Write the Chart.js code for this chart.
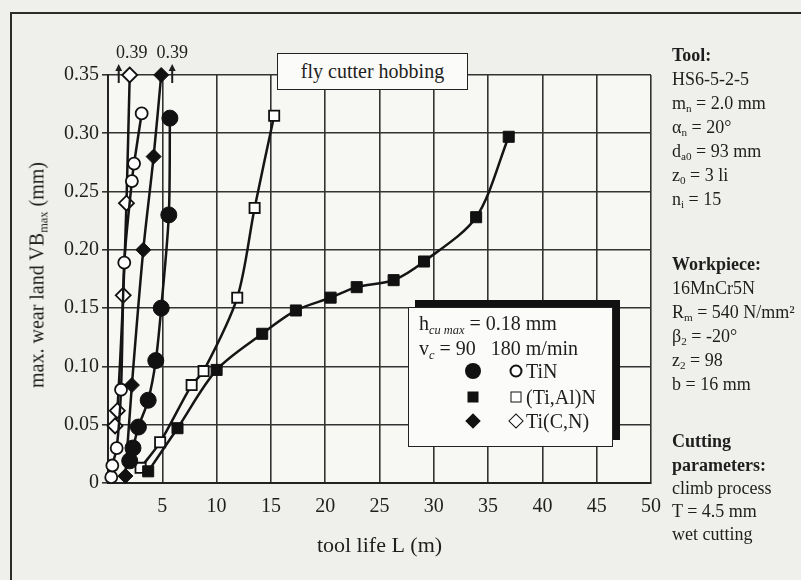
<!DOCTYPE html>
<html>
<head>
<meta charset="utf-8">
<script src="https://cdn.jsdelivr.net/npm/chart.js@4.4.1/dist/chart.umd.min.js"></script>
<style>
  html, body { margin: 0; padding: 0; background: #efefeb; }
  #wrap { position: relative; width: 801px; height: 580px; overflow: hidden;
          font-family: "Liberation Serif", "Times New Roman", serif; color: #1e1e1e; }
  #frame { position: absolute; left: 10px; top: 12px; width: 900px; height: 700px;
           border-left: 2px solid #2b2b2b; border-top: 2px solid #2b2b2b; }
  canvas { position: absolute; left: 0; top: 0; }
  sub { font-size: 0.62em; vertical-align: -0.3em; line-height: 0; }
  .ytitle { position: absolute; left: 37px; top: 275px; white-space: nowrap; font-size: 20px;
            transform: translate(-50%, -50%) rotate(-90deg); }
  #titlebox { position: absolute; left: 277px; top: 53px; width: 191px; height: 37px; box-sizing: border-box;
              border: 1.5px solid #222; background: #fbfbf9; text-align: center; font-size: 20px; line-height: 34px; }
  #legend { position: absolute; left: 408px; top: 307px; width: 205px; height: 140px; box-sizing: border-box;
            border: 1.5px solid #222; background: #fbfbf9; box-shadow: 7px -7px 0 #111; font-size: 20px; }
  #legend .t { position: absolute; white-space: nowrap; line-height: 24px; }
  .m { position: absolute; box-sizing: border-box; transform: translate(-50%, -50%); }
  .fc { width: 16px; height: 16px; border-radius: 50%; background: #111; }
  .oc { width: 13px; height: 13px; border-radius: 50%; border: 2px solid #111; background: #fff; }
  .fs { width: 11px; height: 11px; background: #111; }
  .os { width: 11px; height: 11px; border: 1.5px solid #111; background: #fff; }
  .fd { width: 11px; height: 11px; background: #111; transform: translate(-50%, -50%) rotate(45deg); }
  .od { width: 11px; height: 11px; border: 1.5px solid #111; background: #fff; transform: translate(-50%, -50%) rotate(45deg); }
  #side { position: absolute; left: 672px; top: 0; font-size: 18px; }
  #side div { position: absolute; left: 0; white-space: nowrap; line-height: 24px; }
</style>
</head>
<body>
<div id="wrap">
  <div id="frame"></div>
  <canvas id="wearChart" width="801" height="580"></canvas>
  <div class="ytitle">max. wear land VB<sub>max</sub> (mm)</div>
  <div id="titlebox">fly cutter hobbing</div>
  <div id="legend">
    <div class="t" style="left:10px; top:3px;">h<sub><i>cu max</i></sub> = 0.18 mm</div>
    <div class="t" style="left:10px; top:28px;">v<sub><i>c</i></sub> = 90&nbsp;&nbsp;&nbsp;180 m/min</div>
    <div class="m fc" style="left:64px; top:63px;"></div>
    <div class="m oc" style="left:107px; top:63px;"></div>
    <div class="t" style="left:117px; top:51px;">TiN</div>
    <div class="m fs" style="left:64px; top:89px;"></div>
    <div class="m os" style="left:107px; top:89px;"></div>
    <div class="t" style="left:117px; top:77px;">(Ti,Al)N</div>
    <div class="m fd" style="left:64px; top:113px;"></div>
    <div class="m od" style="left:107px; top:113px;"></div>
    <div class="t" style="left:117px; top:101px;">Ti(C,N)</div>
  </div>
  <div id="side">
    <div style="top:43px;"><b>Tool:</b></div>
    <div style="top:67px;">HS6-5-2-5</div>
    <div style="top:91px;">m<sub>n</sub> = 2.0 mm</div>
    <div style="top:115px;">α<sub>n</sub> = 20°</div>
    <div style="top:139px;">d<sub>a0</sub> = 93 mm</div>
    <div style="top:163px;">z<sub>0</sub> = 3 li</div>
    <div style="top:187px;">n<sub>i</sub> = 15</div>
    <div style="top:252px;"><b>Workpiece:</b></div>
    <div style="top:276px;">16MnCr5N</div>
    <div style="top:300px;">R<sub>m</sub> = 540 N/mm²</div>
    <div style="top:324px;">β<sub>2</sub> = -20°</div>
    <div style="top:348px;">z<sub>2</sub> = 98</div>
    <div style="top:372px;">b = 16 mm</div>
    <div style="top:429px;"><b>Cutting</b></div>
    <div style="top:453px;"><b>parameters:</b></div>
    <div style="top:476px;">climb process</div>
    <div style="top:499px;">T = 4.5 mm</div>
    <div style="top:522px;">wet cutting</div>
  </div>
</div>
<script>
// tool life L (m) / wear land VBmax (mm), v_c = 90 m/min (filled) and 180 m/min (open)
const tin90L = [2.0, 2.3, 2.8, 3.7, 4.4, 4.9, 5.6, 5.7];
const tin90VB = [0.019, 0.030, 0.048, 0.071, 0.105, 0.150, 0.230, 0.313];
const tin180L = [0.3, 0.4, 0.8, 1.2, 1.5, 2.2, 2.4, 3.1];
const tin180VB = [0.005, 0.015, 0.030, 0.080, 0.189, 0.259, 0.274, 0.317];

const tialn90L = [3.7, 6.4, 10.0, 14.2, 17.3, 20.5, 22.9, 26.3, 29.1, 33.9, 36.9];
const tialn90VB = [0.010, 0.047, 0.097, 0.128, 0.148, 0.159, 0.168, 0.174, 0.190, 0.228, 0.297];
const tialn180L = [3.0, 4.8, 7.7, 8.8, 11.9, 13.5, 15.3];
const tialn180VB = [0.013, 0.035, 0.084, 0.096, 0.159, 0.236, 0.315];

const ticn90L = [1.6, 2.2, 3.25, 4.2, 4.9];
const ticn90VB = [0.006, 0.084, 0.200, 0.280, 0.35];
const ticn180L = [0.65, 0.86, 1.4, 1.7, 2.0];
const ticn180VB = [0.049, 0.062, 0.161, 0.240, 0.35];

// points that ran off the top of the scale
const offScaleL = [2.0, 4.9];
const offScaleVB = [0.35, 0.35];
const offScaleText = ['0.39', '0.39'];

const pts = (xs, ys) => xs.map((x, i) => ({ x: x, y: ys[i] }));

function series(label, xs, ys, style, filled, radius) {
  return {
    label: label,
    data: pts(xs, ys),
    showLine: true,
    clip: false,
    tension: 0.3,
    borderColor: '#151515',
    borderWidth: 2.5,
    pointStyle: style,
    pointRadius: radius,
    pointHoverRadius: radius,
    pointBackgroundColor: filled ? '#111' : '#fff',
    pointBorderColor: '#111',
    pointBorderWidth: filled ? 1 : 1.8
  };
}

const areaBg = {
  id: 'areaBg',
  beforeDraw(chart) {
    const { ctx, chartArea: a } = chart;
    ctx.save();
    ctx.fillStyle = '#f7f7f4';
    ctx.fillRect(a.left, a.top, a.right - a.left, a.bottom - a.top);
    ctx.restore();
  }
};

const topMarks = {
  id: 'topMarks',
  afterDatasetsDraw(chart) {
    const { ctx, scales: { x, y } } = chart;
    ctx.save();
    ctx.fillStyle = '#1e1e1e';
    ctx.strokeStyle = '#1e1e1e';
    ctx.lineWidth = 2;
    ctx.font = '18px "Liberation Serif", serif';
    ctx.textAlign = 'center';
    ctx.textBaseline = 'middle';
    offScaleL.forEach((l, i) => {
      const px = x.getPixelForValue(l);
      const py = y.getPixelForValue(offScaleVB[i]);
      const side = i === 0 ? -1 : 1;
      const ax = px + side * 11;
      ctx.beginPath();
      ctx.moveTo(ax, py + 8);
      ctx.lineTo(ax, py - 5);
      ctx.stroke();
      ctx.beginPath();
      ctx.moveTo(ax - 3.5, py - 4);
      ctx.lineTo(ax, py - 11);
      ctx.lineTo(ax + 3.5, py - 4);
      ctx.closePath();
      ctx.fill();
      ctx.fillText(offScaleText[i], px + (side > 0 ? 11 : 2), py - 22);
    });
    ctx.restore();
  }
};

Chart.defaults.font.family = '"Liberation Serif", "Times New Roman", serif';
Chart.defaults.color = '#1e1e1e';

const ctx = document.getElementById('wearChart').getContext('2d');
new Chart(ctx, {
  type: 'scatter',
  data: {
    datasets: [
      series('TiN 90', tin90L, tin90VB, 'circle', true, 8),
      series('TiN 180', tin180L, tin180VB, 'circle', false, 6),
      series('(Ti,Al)N 90', tialn90L, tialn90VB, 'rect', true, 7.8),
      series('(Ti,Al)N 180', tialn180L, tialn180VB, 'rect', false, 7.2),
      series('Ti(C,N) 90', ticn90L, ticn90VB, 'rectRot', true, 7.5),
      series('Ti(C,N) 180', ticn180L, ticn180VB, 'rectRot', false, 7.5)
    ]
  },
  options: {
    responsive: false,
    devicePixelRatio: 1,
    animation: false,
    layout: { padding: { left: 0, right: 150, top: 75, bottom: 0 } },
    plugins: {
      legend: { display: false },
      tooltip: { enabled: false }
    },
    scales: {
      x: {
        type: 'linear',
        min: 0,
        max: 50,
        ticks: { stepSize: 5, padding: 12, font: { size: 20 }, callback: v => (v === 0 ? '' : v) },
        grid: { color: '#333', lineWidth: 1.6, drawTicks: false },
        border: { color: '#222', width: 2 },
        title: { display: true, text: 'tool life L (m)', font: { size: 22 }, padding: { top: 0, bottom: 21 } },
        afterFit: s => { s.height = 97; }
      },
      y: {
        min: 0,
        max: 0.35,
        ticks: { stepSize: 0.05, padding: 3, font: { size: 20 }, callback: v => (v === 0 ? '0' : v.toFixed(2)) },
        grid: { color: '#333', lineWidth: 1.6, tickLength: 6 },
        border: { color: '#222', width: 2 },
        afterFit: s => { s.width = 108; }
      }
    }
  },
  plugins: [areaBg, topMarks]
});
</script>
</body>
</html>
